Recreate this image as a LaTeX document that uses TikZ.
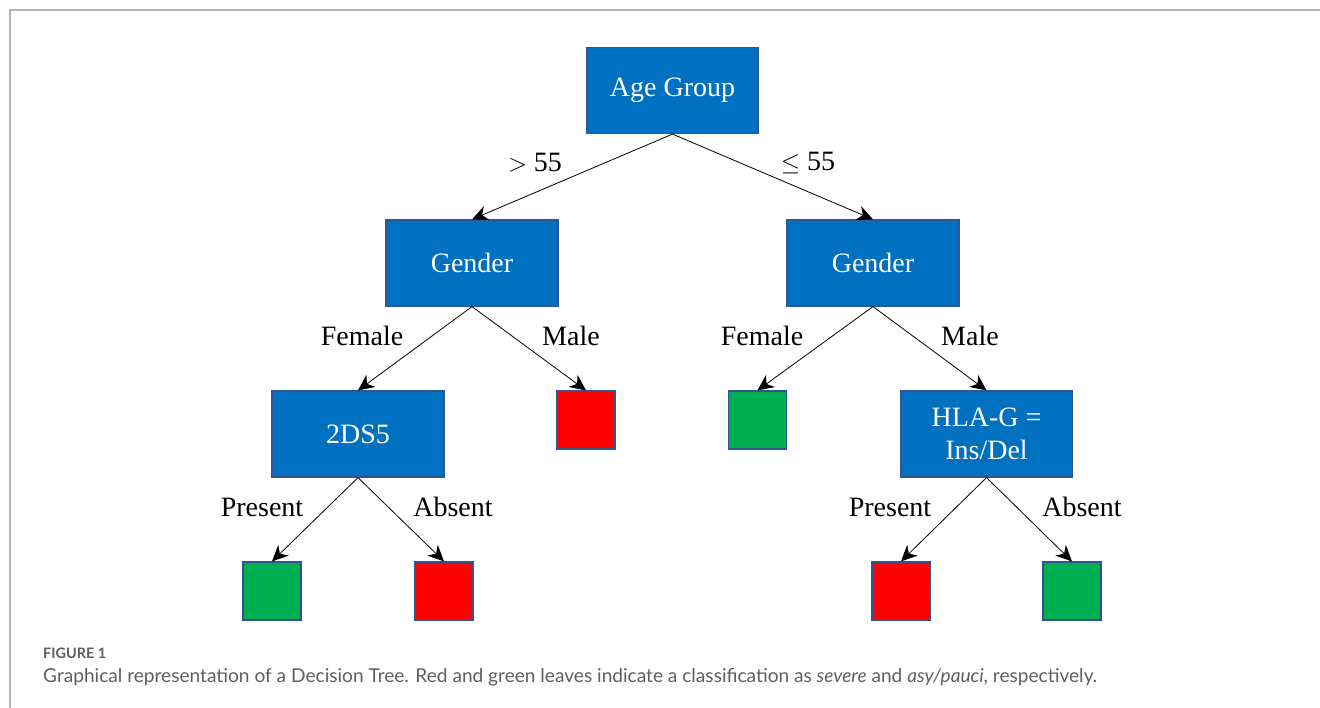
\documentclass[tikz,border=0pt]{standalone}
\usepackage{fontspec}
\setmainfont{Liberation Serif}
\newfontfamily\capfont{Lato}
\usetikzlibrary{arrows.meta}
\definecolor{boxblue}{HTML}{0070C0}
\definecolor{boxedge}{HTML}{2F5597}
\definecolor{leafred}{HTML}{FF0000}
\definecolor{leafgreen}{HTML}{00B050}
\definecolor{framegray}{HTML}{B4B4B4}
\definecolor{capgray}{HTML}{5F5F5F}
\tikzset{
  decbox/.style={draw=boxedge, line width=1.2pt, fill=boxblue, text=white,
    minimum width=172pt, minimum height=86pt, inner sep=0pt, align=center,
    font=\fontsize{28}{33}\selectfont},
  leafbox/.style={draw=boxedge, line width=1.2pt, minimum width=58pt, minimum height=58pt, inner sep=0pt},
  redleaf/.style={leafbox, fill=leafred},
  greenleaf/.style={leafbox, fill=leafgreen},
  elabel/.style={font=\fontsize{28}{33}\selectfont, inner sep=0pt},
  conn/.style={line width=0.8pt, -{Stealth[length=16pt,width=15pt,inset=5pt]}},
  framel/.style={draw=framegray, line width=2pt}
}
\begin{document}
\begin{tikzpicture}[x=1pt,y=-1pt]
\useasboundingbox (0,0) rectangle (1320,708);
% frame
\coordinate (fa) at (9.5,708);
\coordinate (fb) at (9.5,10.5);
\coordinate (fc) at (1320,10.5);
\draw[framel] (fa) -- (fb) -- (fc);
% decision nodes
\node[decbox] (age) at (672.5,90.5) {Age Group};
\node[decbox] (gl) at (472,263) {Gender};
\node[decbox] (gr) at (873,263) {Gender};
\node[decbox] (ds) at (358,434) {2DS5};
\node[decbox] (hla) at (986.5,434) {HLA-G =\\Ins/Del};
% leaves
\node[redleaf] (l1) at (586,420) {};
\node[greenleaf] (l2) at (757.5,420) {};
\node[greenleaf] (l3) at (272,591) {};
\node[redleaf] (l4) at (444,591) {};
\node[redleaf] (l5) at (901,591) {};
\node[greenleaf] (l6) at (1072,591) {};
% connectors
\draw[conn] (age.south) -- (gl.north);
\draw[conn] (age.south) -- (gr.north);
\draw[conn] (gl.south) -- (ds.north);
\draw[conn] (gl.south) -- (l1.north);
\draw[conn] (gr.south) -- (l2.north);
\draw[conn] (gr.south) -- (hla.north);
\draw[conn] (ds.south) -- (l3.north);
\draw[conn] (ds.south) -- (l4.north);
\draw[conn] (hla.south) -- (l5.north);
\draw[conn] (hla.south) -- (l6.north);
% edge labels
\node[elabel] (t1) at (535,163) {$>$ 55};
\node[elabel] (t2) at (808,163) {$\leq$ 55};
\node[elabel] (t3) at (362,336) {Female};
\node[elabel] (t4) at (571,336) {Male};
\node[elabel] (t5) at (762,336) {Female};
\node[elabel] (t6) at (970,336) {Male};
\node[elabel] (t7) at (262,507) {Present};
\node[elabel] (t8) at (453,507) {Absent};
\node[elabel] (t9) at (890,507) {Present};
\node[elabel] (t10) at (1082,507) {Absent};
% caption
\node[anchor=base west, inner sep=0pt, text=capgray, font=\capfont\bfseries\fontsize{14.4}{17}\selectfont] (fig) at (43,658) {FIGURE 1};
\node[anchor=base west, inner sep=0pt, text=capgray, font=\capfont\fontsize{19.1}{23}\selectfont] (cap) at (43,682) {Graphical representation of a Decision Tree. Red and green leaves indicate a classification as \textit{severe} and \textit{asy/pauci}, respectively.};
\end{tikzpicture}
\end{document}
